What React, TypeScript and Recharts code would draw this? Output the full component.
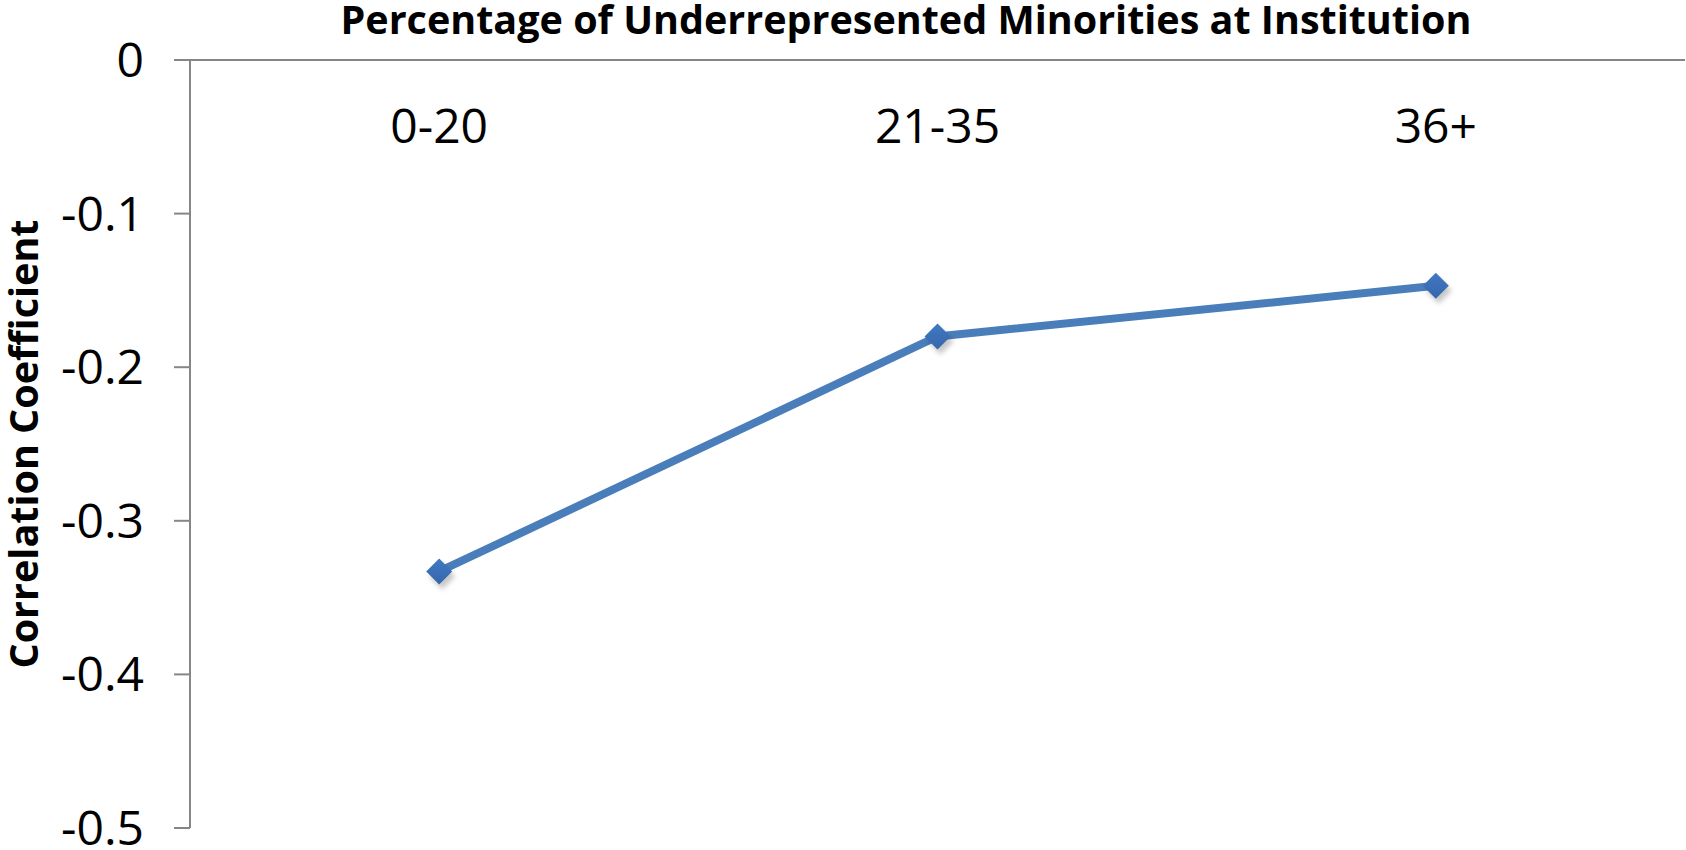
import React from 'react';
import { LineChart, Line, XAxis, YAxis } from 'recharts';

const categories = ['0-20', '21-35', '36+'];
const correlation = [-0.333, -0.18, -0.147];
const yTicks = [-0.5, -0.4, -0.3, -0.2, -0.1, 0];
const categoryBounds = [0, 1, 2, 3];

const chartTitle = 'Percentage of Underrepresented Minorities at Institution';
const yTitle = 'Correlation Coefficient';

const data = categories.map((c, i) => ({ cat: c, value: correlation[i] }));

const FONT = '"Open Sans", "Liberation Sans", sans-serif';

const Diamond = (props: any) => {
  const { cx, cy, index } = props;
  if (cx == null || cy == null) return <g key={index} />;
  const r = 13;
  const pts = (dx: number, dy: number) =>
    `${cx + dx},${cy - r + dy} ${cx + r + dx},${cy + dy} ${cx + dx},${cy + r + dy} ${cx - r + dx},${cy + dy}`;
  return (
    <g key={index}>
      <polygon points={pts(3, 5)} fill="rgba(0,0,0,0.22)" filter="url(#blurShadow)" />
      <polygon points={pts(0, 0)} fill="url(#diamondGrad)" />
    </g>
  );
};

export default function App() {
  return (
    <div style={{ position: 'absolute', left: 0, top: 0, width: 1686, height: 850, background: '#fff', overflow: 'hidden' }}>
      <div
        style={{
          position: 'absolute',
          left: 206,
          width: 1400,
          top: 0,
          textAlign: 'center',
          fontFamily: FONT,
          fontWeight: 700,
          fontSize: 39.5,
          lineHeight: '38px',
          color: '#000',
          whiteSpace: 'nowrap',
        }}
      >
        {chartTitle}
      </div>
      <LineChart width={1686} height={850} data={data} margin={{ top: 60, right: 1, bottom: 22, left: 0 }}>
        <defs>
          <linearGradient id="diamondGrad" x1="0" y1="0" x2="0" y2="1">
            <stop offset="0%" stopColor="#4179C2" />
            <stop offset="100%" stopColor="#3566AC" />
          </linearGradient>
          <filter id="blurShadow" x="-50%" y="-50%" width="200%" height="200%">
            <feGaussianBlur stdDeviation="2.5" />
          </filter>
        </defs>
        <XAxis
          xAxisId="grid"
          type="number"
          domain={[0, categories.length]}
          ticks={categoryBounds}
          orientation="top"
          mirror
          height={1}
          tick={false}
          tickSize={16}
          axisLine={{ stroke: '#868686', strokeWidth: 2 }}
          tickLine={{ stroke: '#868686', strokeWidth: 2 }}
          allowDataOverflow
        />
        <XAxis
          xAxisId="lab"
          dataKey="cat"
          type="category"
          scale="band"
          orientation="top"
          mirror
          height={1}
          axisLine={false}
          tickLine={false}
          tickSize={16}
          tickMargin={32}
          tick={{ fontFamily: FONT, fontSize: 48, fill: '#000' }}
          interval={0}
        />
        <YAxis
          width={190}
          domain={[-0.5, 0]}
          ticks={yTicks}
          type="number"
          interval={0}
          tickSize={16}
          tickMargin={30}
          axisLine={{ stroke: '#868686', strokeWidth: 2 }}
          tickLine={{ stroke: '#868686', strokeWidth: 2 }}
          tick={{ fontFamily: FONT, fontSize: 48, fill: '#000' }}
          label={{
            value: yTitle,
            angle: -90,
            position: 'insideLeft',
            offset: 24,
            style: { textAnchor: 'middle', fontFamily: FONT, fontWeight: 700, fontSize: 39.5, fill: '#000' },
          }}
        />
        <Line
          xAxisId="lab"
          dataKey="value"
          stroke="#4A7EBB"
          strokeWidth={8}
          dot={Diamond}
          activeDot={false}
          isAnimationActive={false}
        />
      </LineChart>
    </div>
  );
}
